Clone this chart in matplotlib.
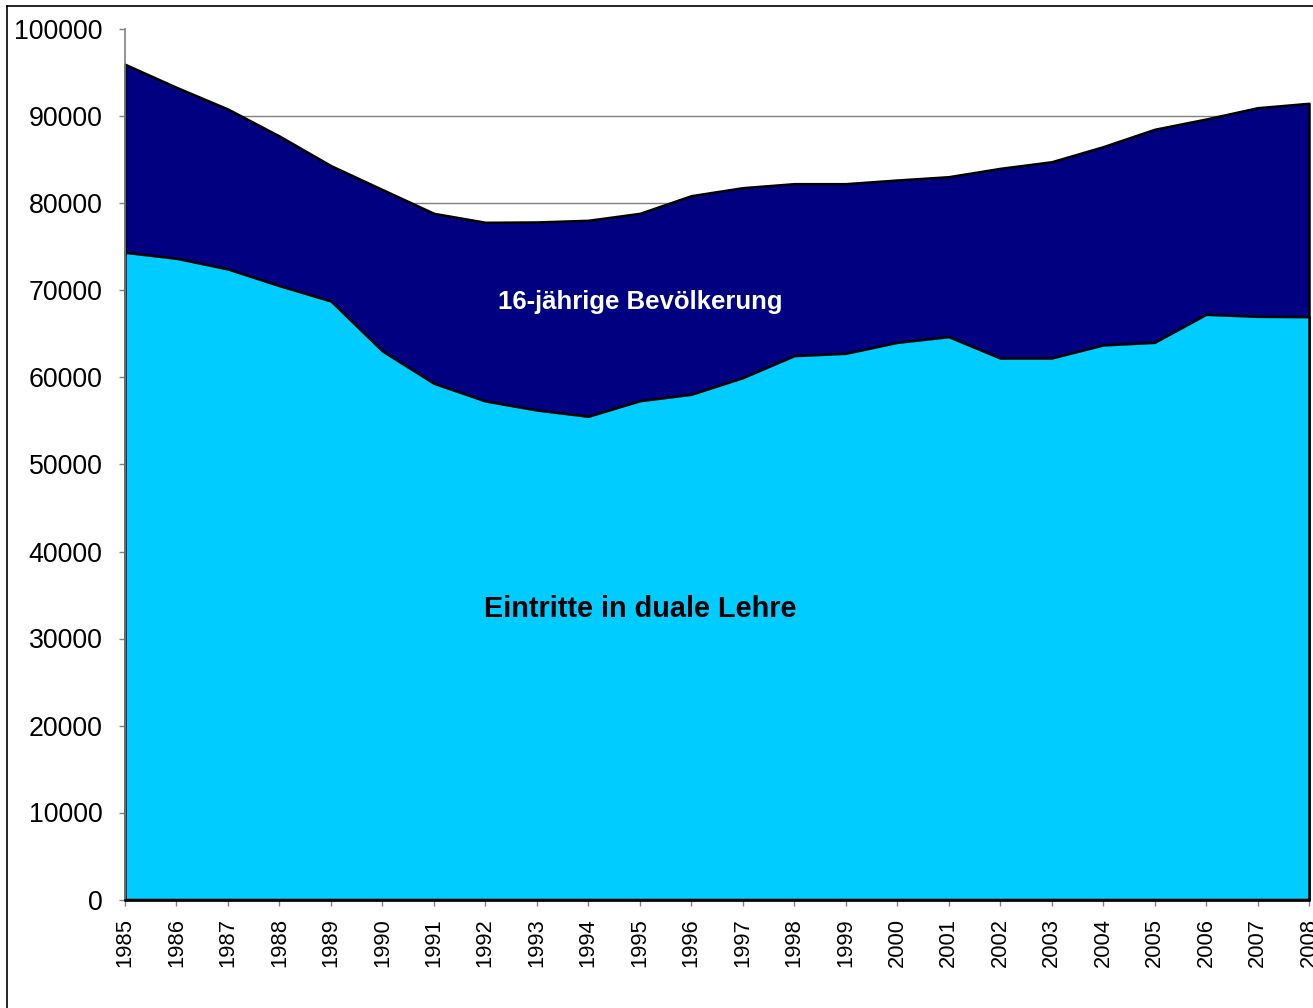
import matplotlib
matplotlib.use("Agg")
import matplotlib.pyplot as plt
from matplotlib.lines import Line2D

plt.rcParams['font.family'] = ['Liberation Sans', 'DejaVu Sans']

jahre = list(range(1985, 2009))
bevoelkerung = [96000, 93350, 90850, 87750, 84350, 81600, 78870, 77840, 77880, 78070,
                78870, 80900, 81820, 82280, 82280, 82700, 83080, 84040, 84800, 86530,
                88530, 89710, 91010, 91520]
lehre = [74390, 73700, 72470, 70550, 68790, 63050, 59330, 57300, 56260, 55540,
         57330, 58070, 59980, 62510, 62780, 64040, 64690, 62240, 62240, 63740,
         64040, 67260, 67030, 66990]
yticks = list(range(0, 100001, 10000))

fig = plt.figure(figsize=(13.13, 10.08), dpi=100)
ax = fig.add_axes([125 / 1313, 108.5 / 1008, (1309 - 125) / 1313, 870 / 1008])

# Flächen (überlappend, nicht gestapelt)
ax.fill_between(jahre, 0, bevoelkerung, facecolor='#000080', edgecolor='black',
                linewidth=1.8, clip_on=False, zorder=1)
ax.fill_between(jahre, 0, lehre, facecolor='#00CCFF', edgecolor='black',
                linewidth=1.8, clip_on=False, zorder=1.1)

ax.set_xlim(1985, 2008)
ax.set_ylim(0, 100000)
ax.set_xticks(jahre)
ax.set_xticklabels([str(j) for j in jahre], rotation=90)
ax.set_yticks(yticks)
ax.set_yticklabels([str(v) for v in yticks])

ax.set_axisbelow(True)
ax.yaxis.grid(True, color='#808080', linewidth=1.0)
ax.get_ygridlines()[-1].set_visible(False)

for s in ['top', 'right']:
    ax.spines[s].set_visible(False)
ax.spines['left'].set_color('#808080')
ax.spines['left'].set_linewidth(1.2)
ax.spines['bottom'].set_color('black')
ax.spines['bottom'].set_linewidth(1.8)

ax.tick_params(axis='y', direction='out', length=4.3, width=1, color='#808080',
               pad=12, labelsize=19.3)
ax.tick_params(axis='x', direction='out', length=4.3, width=1, color='#808080',
               pad=9, labelsize=15.8)

ax.text(1995, 68700, '16-jährige Bevölkerung', color='white', fontsize=18.5,
        fontweight='bold', ha='center', va='center')
ax.text(1995, 33400, 'Eintritte in duale Lehre', color='black', fontsize=20.8,
        fontweight='bold', ha='center', va='center')

# äußerer Rahmen
fig.add_artist(Line2D([6.5 / 1313, 6.5 / 1313], [0, (1008 - 5.5) / 1008],
                      transform=fig.transFigure, color='black', linewidth=1.2))
fig.add_artist(Line2D([6.5 / 1313, 1], [(1008 - 5.5) / 1008, (1008 - 5.5) / 1008],
                      transform=fig.transFigure, color='black', linewidth=1.2))

fig.savefig('out.png', dpi=100)
